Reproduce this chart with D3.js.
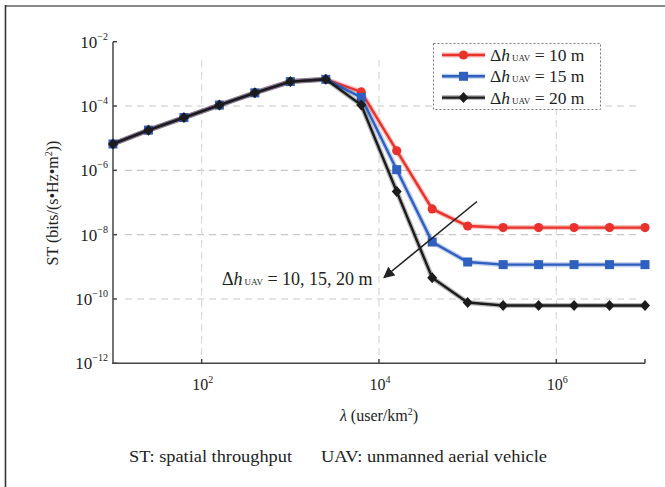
<!DOCTYPE html>
<html><head><meta charset="utf-8">
<script src="https://cdn.jsdelivr.net/npm/d3@7"></script>
<style>body{margin:0;background:#fff}svg{display:block}text{font-family:"Liberation Serif","DejaVu Serif",serif;fill:#222}</style>
</head><body>
<svg id="c" width="665" height="487"></svg>
<script>
const lambdaValues = [10, 25.1, 63.1, 158.5, 398, 1000, 2512, 6310, 15849, 39811, 1e5, 2.512e5, 6.31e5, 1.585e6, 3.981e6, 1e7];
const st10 = [6.6e-6, 1.78e-5, 4.37e-5, 1.07e-4, 2.57e-4, 5.75e-4, 6.76e-4, 2.75e-4, 4.07e-6, 6.3e-8, 1.86e-8, 1.66e-8, 1.66e-8, 1.66e-8, 1.66e-8, 1.66e-8];
const st15 = [6.6e-6, 1.78e-5, 4.37e-5, 1.07e-4, 2.57e-4, 5.75e-4, 6.76e-4, 1.86e-4, 1.05e-6, 5.9e-9, 1.41e-9, 1.17e-9, 1.17e-9, 1.17e-9, 1.17e-9, 1.17e-9];
const st20 = [6.6e-6, 1.78e-5, 4.37e-5, 1.07e-4, 2.57e-4, 5.75e-4, 6.76e-4, 1.07e-4, 2.19e-7, 4.57e-10, 7.76e-11, 6.3e-11, 6.3e-11, 6.3e-11, 6.3e-11, 6.3e-11];
const seriesNames = ["10", "15", "20"];
const xTickExps = [2, 4, 6];
const yTickExps = [-2, -4, -6, -8, -10, -12];
const gridYExps = [-4, -6, -8, -10];

const svg = d3.select("#c");
const x = d3.scaleLog().domain([10, 1e7]).range([113, 645]);
const y = d3.scaleLog().domain([1e-12, 1e-2]).range([363.3, 41.7]);

// frame
svg.append("line").attr("x1",5).attr("x2",665).attr("y1",6).attr("y2",6).attr("stroke","#8a8a8a").attr("stroke-width",2);
svg.append("line").attr("x1",5.5).attr("x2",5.5).attr("y1",5).attr("y2",487).attr("stroke","#333").attr("stroke-width",1.6);

// grid
const g = svg.append("g");
gridYExps.forEach(e=>{
  g.append("line").attr("x1",125).attr("x2",638).attr("y1",y(Math.pow(10,e))).attr("y2",y(Math.pow(10,e)))
   .attr("stroke","#c8c8c8").attr("stroke-width",1.2).attr("stroke-dasharray","7,5");
});
xTickExps.forEach(e=>{
  g.append("line").attr("x1",x(Math.pow(10,e))).attr("x2",x(Math.pow(10,e))).attr("y1",60).attr("y2",360)
   .attr("stroke","#d8d8d8").attr("stroke-width",1.2).attr("stroke-dasharray","7,5");
});

// axes
const ax = svg.append("g").attr("stroke","#444").attr("stroke-width",1.5);
ax.append("line").attr("x1",113).attr("x2",113).attr("y1",41.7).attr("y2",364);
ax.append("line").attr("x1",112.3).attr("x2",645).attr("y1",363.3).attr("y2",363.3);
yTickExps.forEach(e=>{
  const yy = y(Math.pow(10,e));
  ax.append("line").attr("x1",113).attr("x2",117).attr("y1",yy).attr("y2",yy);
  const t = svg.append("text").attr("x",108).attr("y",yy+6).attr("text-anchor","end").attr("font-size",17);
  t.append("tspan").text("10");
  t.append("tspan").attr("dy",-8).attr("font-size",10).text("\u2212"+Math.abs(e));
});
xTickExps.forEach(e=>{
  const xx = x(Math.pow(10,e));
  ax.append("line").attr("x1",xx).attr("x2",xx).attr("y1",363.3).attr("y2",359);
  const t = svg.append("text").attr("x",xx+1).attr("y",389.5).attr("text-anchor","middle").attr("font-size",16);
  t.append("tspan").text("10");
  t.append("tspan").attr("dy",-7).attr("font-size",10).text(e);
});
ax.append("line").attr("x1",645).attr("x2",645).attr("y1",363.3).attr("y2",359);

// axis titles
const yt = svg.append("text").attr("transform","translate(58,203) rotate(-90)").attr("text-anchor","middle").attr("font-size",16);
yt.append("tspan").text("ST (bits/(s\u2022Hz\u2022m");
yt.append("tspan").attr("dy",-6).attr("font-size",10).text("2");
yt.append("tspan").attr("dy",6).text("))");
const xt = svg.append("text").attr("x",379).attr("y",421).attr("text-anchor","middle").attr("font-size",16);
xt.append("tspan").attr("font-style","italic").text("\u03bb");
xt.append("tspan").text(" (user/km");
xt.append("tspan").attr("dy",-6).attr("font-size",10).text("2");
xt.append("tspan").attr("dy",6).text(")");

// caption
svg.append("text").attr("x",129).attr("y",462).attr("font-size",17).attr("textLength",163).attr("lengthAdjust","spacingAndGlyphs").text("ST: spatial throughput");
svg.append("text").attr("x",321).attr("y",462).attr("font-size",17).attr("textLength",226).attr("lengthAdjust","spacingAndGlyphs").text("UAV: unmanned aerial vehicle");

// series
const colors = ["#e8322b", "#2f5fbf", "#1c1c1c"];
const data = [st10, st15, st20];
const line = d3.line().x((d,i)=>x(lambdaValues[i])).y(d=>y(d));
function marker(sel, k, cx, cy){
  if(k===0) sel.append("circle").attr("cx",cx).attr("cy",cy).attr("r",4.6).attr("fill",colors[0]);
  else if(k===1) sel.append("rect").attr("x",cx-4.5).attr("y",cy-4.5).attr("width",9).attr("height",9).attr("fill",colors[1]);
  else sel.append("path").attr("d",`M${cx},${cy-5.5}L${cx+5},${cy}L${cx},${cy+5.5}L${cx-5},${cy}Z`).attr("fill",colors[2]);
}
data.forEach((arr,k)=>{
  const gs = svg.append("g");
  gs.append("path").datum(arr).attr("d",line).attr("fill","none").attr("stroke",colors[k]).attr("stroke-opacity",0.3).attr("stroke-width",5);
  gs.append("path").datum(arr).attr("d",line).attr("fill","none").attr("stroke",colors[k]).attr("stroke-width",2.4);
  arr.forEach((d,i)=>marker(gs,k,x(lambdaValues[i]),y(d)));
});

// legend
svg.append("rect").attr("x",433.5).attr("y",43.5).attr("width",167).attr("height",66).attr("fill","#fff").attr("stroke","#777").attr("stroke-dasharray","2,2").attr("stroke-width",1);
seriesNames.forEach((n,k)=>{
  const ly = 55 + k*21.3;
  const lg = svg.append("g");
  lg.append("line").attr("x1",442).attr("x2",485).attr("y1",ly).attr("y2",ly).attr("stroke",colors[k]).attr("stroke-opacity",0.3).attr("stroke-width",5);
  lg.append("line").attr("x1",442).attr("x2",485).attr("y1",ly).attr("y2",ly).attr("stroke",colors[k]).attr("stroke-width",2.4);
  marker(lg,k,463.5,ly);
  const t = svg.append("text").attr("x",490).attr("y",ly+6).attr("font-size",17.5);
  t.append("tspan").text("\u0394");
  t.append("tspan").attr("font-style","italic").text("h");
  t.append("tspan").attr("font-size",9).attr("dx",2).text("UAV");
  t.append("tspan").text(" = "+n+" m");
});

// annotation arrow
svg.append("defs").append("marker").attr("id","ah").attr("viewBox","0 0 10 10").attr("refX",9).attr("refY",5)
  .attr("markerWidth",7).attr("markerHeight",7).attr("orient","auto")
  .append("path").attr("d","M0,0L10,5L0,10Z").attr("fill","#222");
svg.append("line").attr("x1",477).attr("y1",201.5).attr("x2",384).attr("y2",277.5).attr("stroke","#222").attr("stroke-width",1.6).attr("marker-end","url(#ah)");
const at = svg.append("text").attr("x",222).attr("y",285).attr("font-size",18);
at.append("tspan").text("\u0394");
at.append("tspan").attr("font-style","italic").text("h");
at.append("tspan").attr("font-size",9).attr("dx",2).text("UAV");
at.append("tspan").text(" = 10, 15, 20 m");
</script>
</body></html>
